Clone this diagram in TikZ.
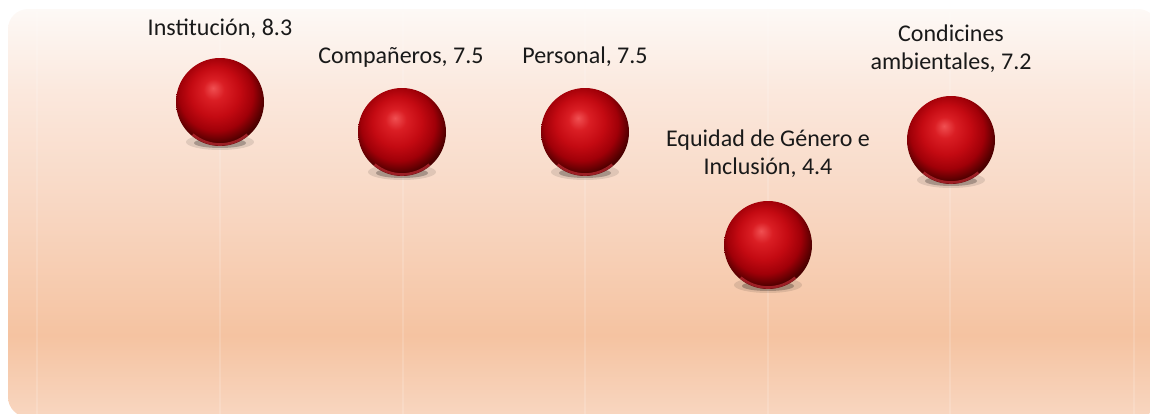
\documentclass[tikz,border=0pt]{standalone}
\usepackage{fontspec}
\setmainfont{Carlito}
\usetikzlibrary{calc}
% the middle 50bp of a shading fills the path
\pgfdeclareverticalshading{peachbg}{100bp}{
  color(0bp)=(rgb,255:red,248;green,214;blue,192);
  color(25bp)=(rgb,255:red,248;green,214;blue,192);
  color(35bp)=(rgb,255:red,245;green,195;blue,161);
  color(50bp)=(rgb,255:red,248;green,214;blue,193);
  color(65bp)=(rgb,255:red,251;green,232;blue,221);
  color(75bp)=(rgb,255:red,253;green,249;blue,246);
  color(100bp)=(rgb,255:red,253;green,249;blue,246)}
\pgfdeclareradialshading{redball}{\pgfpoint{-4bp}{8bp}}{
  color(0bp)=(rgb,255:red,240;green,80;blue,82);
  color(6bp)=(rgb,255:red,218;green,30;blue,36);
  color(14bp)=(rgb,255:red,196;green,10;blue,18);
  color(21bp)=(rgb,255:red,160;green,0;blue,8);
  color(27bp)=(rgb,255:red,80;green,0;blue,0);
  color(33bp)=(rgb,255:red,40;green,0;blue,0);
  color(50bp)=(rgb,255:red,40;green,0;blue,0)}
\tikzset{
  ball/.style={circle, inner sep=0pt, minimum size=66pt, shading=redball},
  rim/.style={line width=2pt, color={rgb,255:red,222;green,58;blue,68}, opacity=0.55},
  lbl/.style={font=\fontsize{18}{21}\selectfont, text=black!90, align=center, inner sep=0pt},
  gridline/.style={line width=0.8pt, color=white, opacity=0.15}
}

\begin{document}
\begin{tikzpicture}[x=0.75pt, y=-0.75pt]
		%%%%% START %%%%%
		\useasboundingbox (0, 0) rectangle (1150, 414);
		
		\begin{scope}
		\clip (0, 0) rectangle (1150, 414);
		\shade[shading=peachbg, rounded corners=15pt] (8, 9) rectangle (1158, 417);
		\foreach \gx in {37, 220, 403, 585, 768, 950, 1134}
			\draw[gridline] (\gx, 12) -- (\gx, 414);
		\end{scope}
		
		% spheres
		\foreach \bx/\by/\bn in {220/102/inst, 402/132/comp, 585/132/pers, 768/245/equi, 951/140/cond}{
			\fill[black, opacity=0.10] (\bx, \by+40) ellipse (34 and 8);
			\fill[black, opacity=0.25] (\bx, \by+41) ellipse (26 and 5);
			\node[ball] (\bn) at (\bx, \by) {};
			\draw[rim] (\bn.center) ++(50:42.5) arc (50:130:42.5);
		}
		
		% labels
		\node[lbl] (instlbl) at (220, 29) {Institución, 8.3};
		\node[lbl] (complbl) at (401, 57) {Compañeros, 7.5};
		\node[lbl] (perslbl) at (585, 57) {Personal, 7.5};
		\node[lbl] (equilbl) at (768, 154) {Equidad de Género e\\Inclusión, 4.4};
		\node[lbl] (condlbl) at (951, 49) {Condicines\\ambientales, 7.2};
		
		%%%%% END %%%%%
	\end{tikzpicture}
\end{document}
